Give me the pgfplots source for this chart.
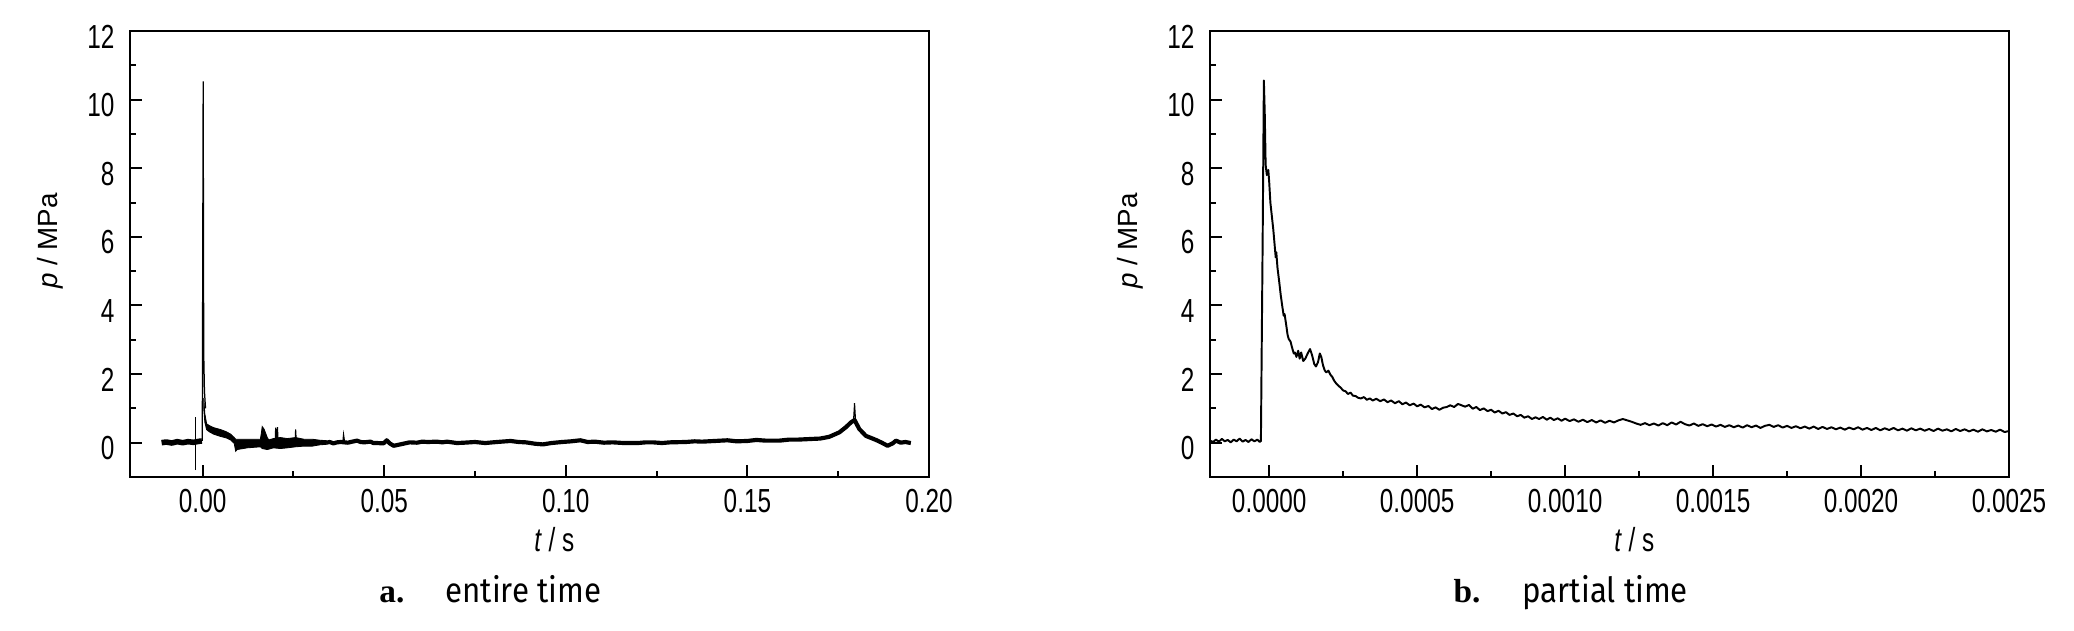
\documentclass[border=0pt]{standalone}
\usepackage{pgfplots}
\pgfplotsset{compat=1.18}
\usepackage{fontspec}
\setmainfont{Liberation Sans}
\newfontfamily\condfont[FakeStretch=0.73]{Liberation Sans}
\newfontfamily\capfont[FakeStretch=0.9]{Fira Sans}
\newfontfamily\serifb{Liberation Serif}

\pgfplotsset{
  myaxis/.style={
    scale only axis,
    width=287.64pt, height=160.56pt,
    axis line style={line width=0.75pt},
    every tick/.style={line width=0.7pt, black},
    major tick length=4.3pt, minor tick length=2.2pt,
    tick align=inside, tick pos=left,
    ymin=-1, ymax=12,
    ytick={0,2,4,6,8,10,12}, minor ytick={1,3,5,7,9,11},
    /pgf/number format/assume math mode=true,
    yticklabel style={font=\condfont\fontsize{12}{12}\selectfont, xshift=-2.1pt, yshift=-2pt},
    xticklabel style={font=\condfont\fontsize{12}{12}\selectfont, yshift=-0.7pt},
    scaled x ticks=false,
    xlabel={\condfont\fontsize{12}{12}\selectfont\textit{t} / s},
    xlabel style={at={(axis description cs:0.531,-0.168)}, anchor=base},
    ylabel={\fontsize{10}{10}\selectfont\textit{p} / MPa},
    ylabel style={at={(axis description cs:-0.100,0.529)}, anchor=center},
  }
}

\begin{document}
\begin{tikzpicture}
\useasboundingbox (0,0) rectangle (746.64pt,227.16pt);

% ---------------- panel a ----------------
\begin{axis}[myaxis,
  at={(46.8pt,55.44pt)}, anchor=south west,
  xmin=-0.02, xmax=0.20,
  xtick={0,0.05,0.1,0.15,0.2}, minor xtick={0.025,0.075,0.125,0.175},
  xticklabel={\pgfmathprintnumber[fixed,fixed zerofill,precision=2]{\tick}},
]
% pre-trigger band
\addplot[black, line width=2pt, line join=round] coordinates {
(-0.0113,0.0) (-0.0100,0.02) (-0.0085,-0.01) (-0.0070,0.03) (-0.0055,0.0)
(-0.0040,0.03) (-0.0025,0.01) (-0.0010,0.04) (-0.0002,0.05)
};
% small spike before trigger
\addplot[black, line width=0.4pt] coordinates {(-0.0019,-0.80) (-0.0019,0.75)};
% main spike
\addplot[black, line width=0.45pt] coordinates {
(-0.0001,0.05) (0.00015,10.53) (0.0003,2.6) (0.0005,1.5) (0.0008,1.0)
};
% decay band and early noise
\addplot[black, fill=black, line width=0.3pt] coordinates {
(0.0003,1.3) (0.0006,0.85) (0.0011,0.55) (0.0018,0.50) (0.0030,0.44)
(0.0050,0.38) (0.0065,0.32) (0.0077,0.25) (0.0087,0.15) (0.0091,0.10)
(0.0123,0.10) (0.0159,0.10) (0.0162,0.30) (0.0164,0.47) (0.0169,0.40)
(0.0178,0.15) (0.0182,0.08) (0.0195,0.12) (0.0214,0.15) (0.0233,0.12)
(0.0256,0.15) (0.0279,0.10) (0.0302,0.10) (0.0324,0.07) (0.0340,0.06)
(0.0340,-0.05) (0.0324,-0.06) (0.0302,-0.10) (0.0279,-0.10) (0.0256,-0.12)
(0.0233,-0.15) (0.0214,-0.17) (0.0195,-0.15) (0.0178,-0.20) (0.0164,-0.17)
(0.0159,-0.12) (0.0123,-0.15) (0.0095,-0.20) (0.0091,-0.25) (0.0087,-0.02)
(0.0077,0.08) (0.0065,0.14) (0.0050,0.18) (0.0030,0.25) (0.0018,0.32)
(0.0011,0.38) (0.0006,0.60) (0.0003,1.0)
} -- cycle;
% small spikes
\addplot[black, line width=0.4pt] coordinates {
(0.0200,0.05) (0.0201,0.44) (0.0203,0.02) (0.0206,0.45) (0.0208,0.02)
};
\addplot[black, line width=0.4pt] coordinates {(0.0255,0.02) (0.0256,0.39) (0.0258,0.02)};
\addplot[black, line width=0.4pt] coordinates {(0.0386,0.02) (0.0388,0.24) (0.0391,0.02)};
% long baseline
\addplot[black, line width=1.5pt, line join=round] coordinates {
(0.0340,0.00) (0.0350,0.02) (0.0360,-0.02) (0.0370,0.01) (0.0380,0.02) (0.0400,0.00)
(0.0412,0.03) (0.0425,0.06) (0.0435,0.02) (0.0445,0.01) (0.0462,0.03) (0.0470,-0.01)
(0.0480,-0.01) (0.0498,-0.02) (0.0507,0.07) (0.0515,-0.02)
(0.0526,-0.09) (0.0544,-0.05) (0.0570,0.01) (0.0590,0.00) (0.0605,0.03) (0.0620,0.02)
(0.0645,0.03) (0.0660,0.01) (0.0673,0.03) (0.0700,-0.01) (0.0720,0.00) (0.0750,0.02) (0.0778,-0.01) (0.0810,0.02)
(0.0848,0.05) (0.0870,0.02) (0.0890,0.01) (0.0915,-0.03) (0.0937,-0.05) (0.0960,-0.01) (0.0990,0.02) (0.1015,0.04) (0.1040,0.07)
(0.1060,0.02) (0.1080,0.03) (0.1105,0.00) (0.1129,0.01) (0.1160,-0.01) (0.1199,-0.01) (0.1220,0.01) (0.1240,0.01)
(0.1265,-0.01) (0.1287,0.01) (0.1330,0.02) (0.1355,0.04) (0.1375,0.03) (0.1410,0.05) (0.1445,0.07)
(0.1470,0.04) (0.1500,0.05) (0.1525,0.08) (0.1550,0.06) (0.1588,0.06) (0.1615,0.09) (0.1640,0.09) (0.1679,0.11)
(0.1700,0.12) (0.1725,0.17) (0.1753,0.30) (0.1771,0.45) (0.1785,0.59) (0.1795,0.66)
(0.1808,0.40) (0.1826,0.20) (0.1854,0.08) (0.1870,0.00) (0.1886,-0.09) (0.1900,-0.02)
(0.1909,0.06) (0.1922,0.00) (0.1935,0.02) (0.1950,-0.01)
};
\addplot[black, line width=0.4pt] coordinates {(0.1792,0.6) (0.1795,1.15) (0.1798,0.6)};
\end{axis}

% ---------------- panel b ----------------
\begin{axis}[myaxis,
  at={(435.6pt,55.44pt)}, anchor=south west,
  xmin=-0.0002, xmax=0.0025,
  xtick={0,0.0005,0.001,0.0015,0.002,0.0025},
  minor xtick={0.00025,0.00075,0.00125,0.00175,0.00225},
  xticklabel={\pgfmathprintnumber[fixed,fixed zerofill,precision=4]{\tick}},
]
\addplot[black, line width=0.7pt, line join=round] coordinates {
(-0.00020,0.06) (-0.00019,0.02) (-0.00018,0.09) (-0.00017,0.03) (-0.00016,0.11)
(-0.00015,0.04) (-0.00014,0.08) (-0.00013,0.01) (-0.00012,0.09) (-0.00011,0.04)
(-0.00010,0.12) (-0.00009,0.03) (-0.00008,0.08) (-0.00007,0.02) (-0.00006,0.10)
(-0.00005,0.04) (-0.00004,0.09) (-0.000032,0.02) (-0.000028,0.05)
(-0.000022,6.0) (-0.000018,10.56) (-0.000015,9.6) (-0.000012,8.1) (-0.000008,7.8)
(-0.000003,7.95) (0.000000,7.6) (0.000004,7.0) (0.000009,6.6) (0.000014,6.2)
(0.000019,5.7) (0.000022,5.4) (0.000024,5.55) (0.000028,5.1) (0.000034,4.68)
(0.000039,4.3) (0.000044,3.99) (0.000049,3.7) (0.000052,3.75) (0.000058,3.4)
(0.000062,3.15) (0.000066,3.02) (0.000072,2.95) (0.000078,2.75) (0.000083,2.6)
(0.000087,2.63) (0.000092,2.5) (0.000098,2.68) (0.000103,2.45) (0.000108,2.63)
(0.000115,2.38) (0.000122,2.45) (0.000130,2.6) (0.000138,2.73) (0.000145,2.55)
(0.000152,2.3) (0.000158,2.22) (0.000165,2.35) (0.000171,2.6) (0.000176,2.5)
(0.000182,2.25) (0.000188,2.1) (0.000193,2.05) (0.000200,2.1) (0.000207,1.98)
(0.000213,1.92) (0.000220,1.8) (0.000227,1.72) (0.000234,1.66) (0.000242,1.6)
(0.000250,1.52) (0.000258,1.5) (0.000266,1.42) (0.000275,1.46) (0.000283,1.37)
(0.000292,1.36) (0.000300,1.31) (0.000310,1.29) (0.000320,1.33) (0.000330,1.25)
(0.000340,1.29) (0.000350,1.23) (0.000362,1.28) (0.000375,1.21) (0.000388,1.26)
(0.000400,1.18) (0.000412,1.23) (0.000425,1.15) (0.000438,1.21) (0.000450,1.12)
(0.000462,1.17) (0.000475,1.09) (0.000488,1.14) (0.000500,1.06) (0.000512,1.11)
(0.000525,1.03) (0.000538,1.07) (0.000550,0.98) (0.000562,1.03) (0.000575,0.96)
(0.000588,1.02) (0.000600,1.04) (0.000612,1.09) (0.000625,1.04) (0.000638,1.13)
(0.000650,1.09) (0.000662,1.05) (0.000675,1.1) (0.000688,0.99) (0.000700,1.04)
(0.000712,0.95) (0.000725,1.0) (0.000738,0.92) (0.000750,0.96) (0.000762,0.88)
(0.000775,0.93) (0.000788,0.85) (0.000800,0.89) (0.000812,0.81) (0.000825,0.85)
(0.000838,0.77) (0.000850,0.81) (0.000862,0.73) (0.000875,0.77) (0.000888,0.69)
(0.000900,0.74) (0.000912,0.69) (0.000925,0.75) (0.000938,0.67) (0.000950,0.73)
(0.000962,0.66) (0.000975,0.71) (0.000988,0.64) (0.001000,0.7) (0.001015,0.63)
(0.001030,0.68) (0.001045,0.61) (0.001060,0.67) (0.001075,0.6) (0.001090,0.66)
(0.001105,0.59) (0.001120,0.65) (0.001135,0.58) (0.001150,0.64) (0.001165,0.59)
(0.001180,0.65) (0.001195,0.69) (0.001210,0.65) (0.001225,0.61) (0.001240,0.56)
(0.001255,0.52) (0.001270,0.57) (0.001285,0.51) (0.001300,0.56) (0.001315,0.5)
(0.001330,0.57) (0.001345,0.51) (0.001360,0.59) (0.001375,0.53) (0.001390,0.61)
(0.001405,0.54) (0.001420,0.5) (0.001435,0.56) (0.001450,0.49) (0.001465,0.54)
(0.001480,0.48) (0.001495,0.53) (0.001510,0.47) (0.001525,0.52) (0.001540,0.46)
(0.001555,0.51) (0.001570,0.45) (0.001585,0.5) (0.001600,0.44) (0.001615,0.51)
(0.001630,0.45) (0.001645,0.5) (0.001660,0.43) (0.001675,0.49) (0.001690,0.52)
(0.001705,0.46) (0.001720,0.51) (0.001735,0.44) (0.001750,0.49) (0.001765,0.43)
(0.001780,0.48) (0.001795,0.42) (0.001810,0.47) (0.001825,0.41) (0.001840,0.47)
(0.001855,0.4) (0.001870,0.46) (0.001885,0.4) (0.001900,0.45) (0.001915,0.39)
(0.001930,0.44) (0.001945,0.38) (0.001960,0.44) (0.001975,0.39) (0.001990,0.45)
(0.002005,0.38) (0.002020,0.43) (0.002035,0.37) (0.002050,0.43) (0.002065,0.36)
(0.002080,0.42) (0.002095,0.37) (0.002110,0.43) (0.002125,0.36) (0.002140,0.41)
(0.002155,0.35) (0.002170,0.42) (0.002185,0.36) (0.002200,0.41) (0.002215,0.35)
(0.002230,0.4) (0.002245,0.34) (0.002260,0.41) (0.002275,0.35) (0.002290,0.39)
(0.002305,0.33) (0.002320,0.4) (0.002335,0.34) (0.002350,0.39) (0.002365,0.33)
(0.002380,0.38) (0.002395,0.32) (0.002410,0.39) (0.002425,0.33) (0.002440,0.37)
(0.002455,0.32) (0.002470,0.38) (0.002485,0.31) (0.002500,0.34)
};
\end{axis}

% captions
\node[anchor=base east, inner sep=0pt, font=\serifb\bfseries\fontsize{12}{12}\selectfont] at (145.8pt,10.08pt) {a.};
\node[anchor=base west, inner sep=0pt, font=\capfont\fontsize{12.5}{13}\selectfont] at (160.2pt,10.08pt) {entire time};
\node[anchor=base east, inner sep=0pt, font=\serifb\bfseries\fontsize{12}{12}\selectfont] at (533.16pt,10.08pt) {b.};
\node[anchor=base west, inner sep=0pt, font=\capfont\fontsize{12.5}{13}\selectfont] at (547.92pt,10.08pt) {partial time};
\end{tikzpicture}
\end{document}
